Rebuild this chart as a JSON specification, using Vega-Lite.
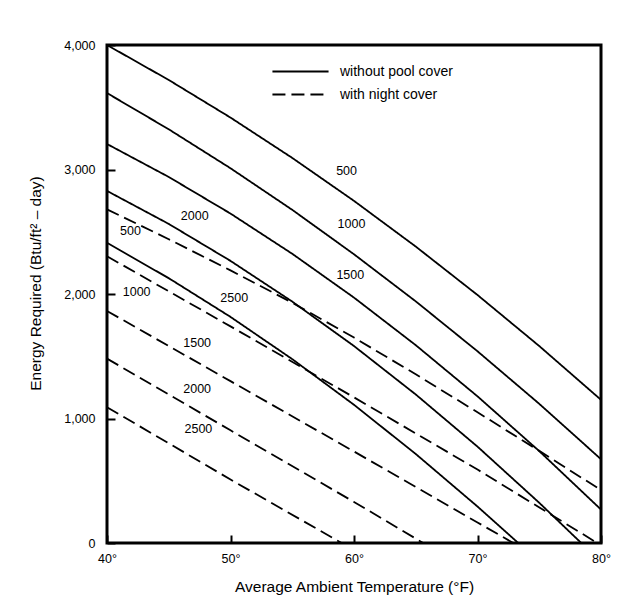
{
  "$schema": "https://vega.github.io/schema/vega-lite/v6.json",
  "autosize": {"type": "none"},
  "padding": {"left": 107, "top": 45, "right": 23, "bottom": 67},
  "width": 494,
  "height": 498,
  "background": "white",
  "config": {
    "font": "Liberation Sans",
    "view": {"stroke": "black", "strokeWidth": 3},
    "axis": {
      "grid": false,
      "domain": false,
      "ticks": true,
      "tickColor": "black",
      "tickWidth": 2,
      "tickSize": 8,
      "offset": -8,
      "zindex": 1,
      "labelColor": "black",
      "labelFontSize": 12.5,
      "labelFont": "Liberation Sans",
      "titleColor": "black",
      "titleFontSize": 15.5,
      "titleFontWeight": "normal",
      "titleFont": "Liberation Sans"
    }
  },
  "datasets": {
    "curves": [
      {"series": "solid500", "cover": "without pool cover", "T": 40, "E": 4000},
      {"series": "solid500", "cover": "without pool cover", "T": 45, "E": 3719},
      {"series": "solid500", "cover": "without pool cover", "T": 50, "E": 3417},
      {"series": "solid500", "cover": "without pool cover", "T": 55, "E": 3093},
      {"series": "solid500", "cover": "without pool cover", "T": 60, "E": 2748},
      {"series": "solid500", "cover": "without pool cover", "T": 65, "E": 2381},
      {"series": "solid500", "cover": "without pool cover", "T": 70, "E": 1992},
      {"series": "solid500", "cover": "without pool cover", "T": 75, "E": 1582},
      {"series": "solid500", "cover": "without pool cover", "T": 80, "E": 1150},
      {"series": "solid1000", "cover": "without pool cover", "T": 40, "E": 3614},
      {"series": "solid1000", "cover": "without pool cover", "T": 45, "E": 3323},
      {"series": "solid1000", "cover": "without pool cover", "T": 50, "E": 3010},
      {"series": "solid1000", "cover": "without pool cover", "T": 55, "E": 2676},
      {"series": "solid1000", "cover": "without pool cover", "T": 60, "E": 2319},
      {"series": "solid1000", "cover": "without pool cover", "T": 65, "E": 1941},
      {"series": "solid1000", "cover": "without pool cover", "T": 70, "E": 1540},
      {"series": "solid1000", "cover": "without pool cover", "T": 75, "E": 1118},
      {"series": "solid1000", "cover": "without pool cover", "T": 80, "E": 673},
      {"series": "solid1500", "cover": "without pool cover", "T": 40, "E": 3205},
      {"series": "solid1500", "cover": "without pool cover", "T": 45, "E": 2940},
      {"series": "solid1500", "cover": "without pool cover", "T": 50, "E": 2646},
      {"series": "solid1500", "cover": "without pool cover", "T": 55, "E": 2323},
      {"series": "solid1500", "cover": "without pool cover", "T": 60, "E": 1971},
      {"series": "solid1500", "cover": "without pool cover", "T": 65, "E": 1589},
      {"series": "solid1500", "cover": "without pool cover", "T": 70, "E": 1178},
      {"series": "solid1500", "cover": "without pool cover", "T": 75, "E": 738},
      {"series": "solid1500", "cover": "without pool cover", "T": 80, "E": 269},
      {"series": "solid2000", "cover": "without pool cover", "T": 40, "E": 2828},
      {"series": "solid2000", "cover": "without pool cover", "T": 45, "E": 2563},
      {"series": "solid2000", "cover": "without pool cover", "T": 50, "E": 2266},
      {"series": "solid2000", "cover": "without pool cover", "T": 55, "E": 1939},
      {"series": "solid2000", "cover": "without pool cover", "T": 60, "E": 1582},
      {"series": "solid2000", "cover": "without pool cover", "T": 65, "E": 1193},
      {"series": "solid2000", "cover": "without pool cover", "T": 70, "E": 774},
      {"series": "solid2000", "cover": "without pool cover", "T": 75, "E": 323},
      {"series": "solid2000", "cover": "without pool cover", "T": 78.4, "E": 0},
      {"series": "solid2500", "cover": "without pool cover", "T": 40, "E": 2411},
      {"series": "solid2500", "cover": "without pool cover", "T": 45, "E": 2127},
      {"series": "solid2500", "cover": "without pool cover", "T": 50, "E": 1816},
      {"series": "solid2500", "cover": "without pool cover", "T": 55, "E": 1477},
      {"series": "solid2500", "cover": "without pool cover", "T": 60, "E": 1110},
      {"series": "solid2500", "cover": "without pool cover", "T": 65, "E": 715},
      {"series": "solid2500", "cover": "without pool cover", "T": 70, "E": 293},
      {"series": "solid2500", "cover": "without pool cover", "T": 73.3, "E": 0},
      {"series": "dash500", "cover": "with night cover", "T": 40, "E": 2680},
      {"series": "dash500", "cover": "with night cover", "T": 45, "E": 2440},
      {"series": "dash500", "cover": "with night cover", "T": 50, "E": 2190},
      {"series": "dash500", "cover": "with night cover", "T": 55, "E": 1930},
      {"series": "dash500", "cover": "with night cover", "T": 60, "E": 1650},
      {"series": "dash500", "cover": "with night cover", "T": 65, "E": 1355},
      {"series": "dash500", "cover": "with night cover", "T": 70, "E": 1050},
      {"series": "dash500", "cover": "with night cover", "T": 75, "E": 740},
      {"series": "dash500", "cover": "with night cover", "T": 80, "E": 425},
      {"series": "dash1000", "cover": "with night cover", "T": 40, "E": 2303},
      {"series": "dash1000", "cover": "with night cover", "T": 50, "E": 1740},
      {"series": "dash1000", "cover": "with night cover", "T": 60, "E": 1170},
      {"series": "dash1000", "cover": "with night cover", "T": 70, "E": 590},
      {"series": "dash1000", "cover": "with night cover", "T": 79.7, "E": 0},
      {"series": "dash1500", "cover": "with night cover", "T": 40, "E": 1864},
      {"series": "dash1500", "cover": "with night cover", "T": 50, "E": 1300},
      {"series": "dash1500", "cover": "with night cover", "T": 60, "E": 735},
      {"series": "dash1500", "cover": "with night cover", "T": 70, "E": 165},
      {"series": "dash1500", "cover": "with night cover", "T": 72.9, "E": 0},
      {"series": "dash2000", "cover": "with night cover", "T": 40, "E": 1481},
      {"series": "dash2000", "cover": "with night cover", "T": 50, "E": 905},
      {"series": "dash2000", "cover": "with night cover", "T": 60, "E": 330},
      {"series": "dash2000", "cover": "with night cover", "T": 65.6, "E": 0},
      {"series": "dash2500", "cover": "with night cover", "T": 40, "E": 1091},
      {"series": "dash2500", "cover": "with night cover", "T": 50, "E": 510},
      {"series": "dash2500", "cover": "with night cover", "T": 59, "E": 0}
    ],
    "labels": [
      {"label": "500", "T": 59.4, "E": 2990},
      {"label": "1000", "T": 59.8, "E": 2559},
      {"label": "1500", "T": 59.7, "E": 2155},
      {"label": "2000", "T": 47.1, "E": 2626},
      {"label": "2500", "T": 50.3, "E": 1966},
      {"label": "500", "T": 41.9, "E": 2505},
      {"label": "1000", "T": 42.4, "E": 2020},
      {"label": "1500", "T": 47.3, "E": 1603},
      {"label": "2000", "T": 47.3, "E": 1239},
      {"label": "2500", "T": 47.4, "E": 916}
    ]
  },
  "layer": [
    {
      "data": {"name": "curves"},
      "mark": {"type": "line", "color": "black", "strokeWidth": 1.8},
      "encoding": {
        "x": {
          "field": "T",
          "type": "quantitative",
          "scale": {"domain": [40, 80], "nice": false, "zero": false},
          "axis": {
            "title": "Average Ambient Temperature (°F)",
            "values": [40, 50, 60, 70, 80],
            "labelExpr": "datum.value + '°'",
            "labelFlush": false,
            "labelPadding": 9,
            "titlePadding": 15
          }
        },
        "y": {
          "field": "E",
          "type": "quantitative",
          "scale": {"domain": [0, 4000], "nice": false},
          "axis": {
            "title": "Energy Required (Btu/ft² – day)",
            "values": [0, 1000, 2000, 3000, 4000],
            "format": ",d",
            "labelPadding": 12,
            "titlePadding": 20,
            "titleY": 238
          }
        },
        "detail": {"field": "series", "type": "nominal"},
        "strokeDash": {
          "field": "cover",
          "type": "nominal",
          "scale": {"domain": ["without pool cover", "with night cover"], "range": [[1, 0], [13, 6]]},
          "legend": {
            "title": null,
            "orient": "none",
            "legendX": 183,
            "legendY": 16,
            "symbolType": "M-3,0H3",
            "symbolSize": 350,
            "symbolStrokeColor": "black",
            "symbolStrokeWidth": 2,
            "labelFontSize": 14,
            "labelColor": "black",
            "labelOffset": 29,
            "rowPadding": 5
          }
        }
      }
    },
    {
      "data": {"name": "labels"},
      "mark": {"type": "text", "fontSize": 12.5, "color": "black", "font": "Liberation Sans"},
      "encoding": {
        "x": {"field": "T", "type": "quantitative"},
        "y": {"field": "E", "type": "quantitative"},
        "text": {"field": "label"}
      }
    }
  ]
}
